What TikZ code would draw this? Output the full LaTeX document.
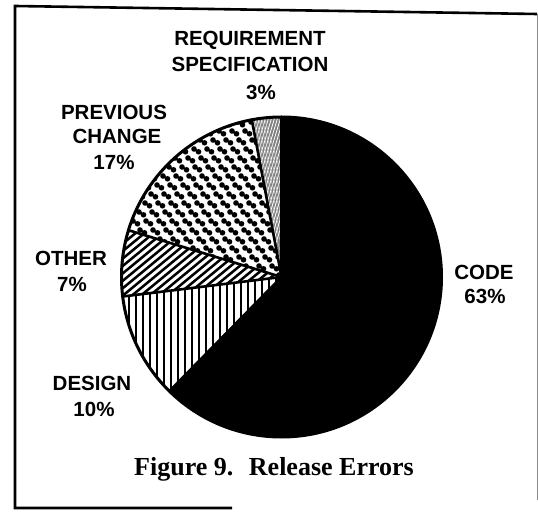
\documentclass[tikz,border=0pt]{standalone}
\usepackage{fontspec}
\setmainfont{Liberation Serif}
\newfontfamily\labfont{Liberation Sans}
\begin{document}
\begin{tikzpicture}[x=1pt,y=-1pt,
  lab/.style={font=\labfont\bfseries\fontsize{20.5}{24}\selectfont, inner sep=0pt, anchor=base},
  captext/.style={font=\bfseries\fontsize{26}{30}\selectfont, inner sep=0pt, anchor=base},
  sliceedge/.style={line width=2.6pt, line cap=round},
  frameline/.style={line width=2.6pt},
]
\useasboundingbox (0,0) rectangle (538,518);
\fill[white] (0,0) rectangle (538,518);
\coordinate (C) at (281.5,277);
\def\R{160}
% DESIGN: vertical stripes
\begin{scope}
\clip (C) -- ++(134.5:\R) arc[start angle=134.5, end angle=173, radius=\R] -- cycle;
\foreach \x in {101,108,...,300} \draw[line width=2.9pt] (\x,250) -- (\x,460);
\end{scope}
% OTHER: diagonal hatch
\begin{scope}
\clip (C) -- ++(173:\R) arc[start angle=173, end angle=197, radius=\R] -- cycle;
\foreach \x in {-120,-111,...,300} \draw[line width=2.5pt] (\x,340) -- ++(200,-165);
\end{scope}
% PREVIOUS CHANGE: dots in staggered pairs
\begin{scope}
\clip (C) -- ++(197:\R) arc[start angle=197, end angle=259.3, radius=\R] -- cycle;
\foreach \j in {0,...,20}{
  \foreach \i in {-14,...,14}{
    \pgfmathsetmacro\px{120+13*\i+7*\j}
    \pgfmathsetmacro\py{104+9*\j}
    \fill (\px,\py) circle[radius=2.8pt] (\px+4.5,\py+2.8) circle[radius=2.8pt];
  }}
\end{scope}
% REQUIREMENT SPECIFICATION: fine crosshatch
\begin{scope}
\clip (C) -- ++(259.3:\R) arc[start angle=259.3, end angle=270, radius=\R] -- cycle;
\fill[black!50] (240,100) rectangle (290,290);
\foreach \x in {100,103,...,320} {
  \draw[white, line width=0.8pt] (\x,100) -- ++(-60,200);
  \draw[white!80!black, line width=0.5pt] (\x-60,100) -- ++(60,200);
}
\end{scope}
% CODE: solid black
\fill (C) -- ++(-90:\R) arc[start angle=-90, end angle=134.5, radius=\R] -- cycle;
% slice edges and rim
\foreach \a in {134.5,173,197,259.3,270} \draw[sliceedge] (C) -- ++(\a:\R);
\draw[line width=3pt] (C) circle[radius=\R];
% labels
\node[lab] (req1) at (250,46) {REQUIREMENT};
\node[lab] (req2) at (250,72) {SPECIFICATION};
\node[lab] (req3) at (261,100) {3\%};
\node[lab] (prev1) at (114,120) {PREVIOUS};
\node[lab] (prev2) at (117,144) {CHANGE};
\node[lab] (prev3) at (114,170) {17\%};
\node[lab] (oth1) at (71,266) {OTHER};
\node[lab] (oth2) at (72,292) {7\%};
\node[lab] (code1) at (484,280) {CODE};
\node[lab] (code2) at (485,304) {63\%};
\node[lab] (des1) at (92,390) {DESIGN};
\node[lab] (des2) at (94,417) {10\%};
\node[captext] (caption) at (274,475) {Figure 9.\hspace{0.6em}Release Errors};
% frame
\draw[frameline] (537,14) -- (15,6) -- (15,508) -- (232,508);
\draw[line width=0.7pt, black!45] (537,14) -- (537,500);
\end{tikzpicture}
\end{document}
